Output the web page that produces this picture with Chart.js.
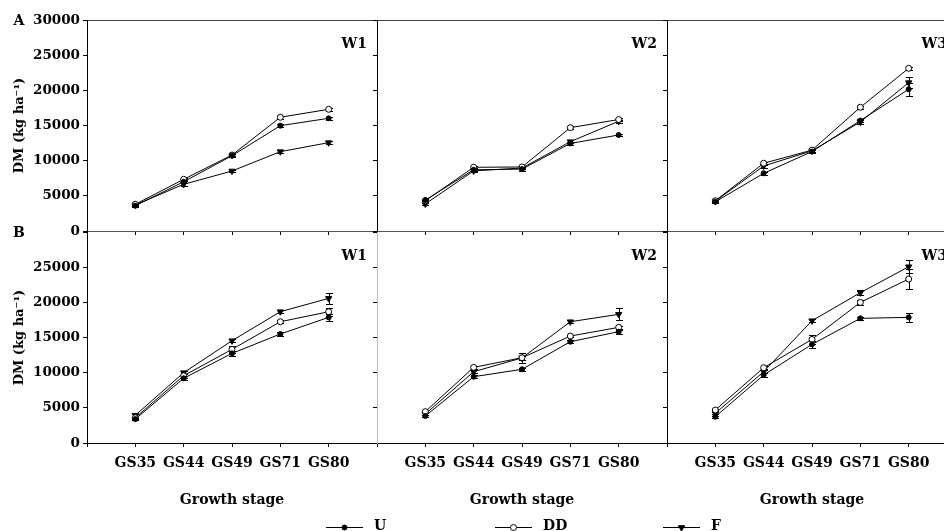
<!DOCTYPE html>
<html>
<head>
<meta charset="utf-8">
<script src="https://cdn.jsdelivr.net/npm/chart.js@4.4.1/dist/chart.umd.min.js"></script>
<style>
html,body{margin:0;padding:0;background:#fff;overflow:hidden;width:944px;height:531px;}
#wrap{position:relative;width:944px;height:531px;overflow:hidden;background:#fff;}
#wrap canvas{position:absolute;}
</style>
</head>
<body>
<div id="wrap"></div>
<script>
// ---------- data ----------
const stages = ['GS35', 'GS44', 'GS49', 'GS71', 'GS80'];
const seriesNames = ['U', 'DD', 'F'];
const panelNames = ['W1', 'W2', 'W3'];
const rowLetters = ['A', 'B'];
const yTickStep = 5000;
const yMax = 30000;

// Row A
const A_W1_U  = [3600, 7000, 10700, 14980, 16020];
const A_W1_DD = [3800, 7350, 10800, 16170, 17300];
const A_W1_F  = [3700, 6640, 8530, 11280, 12560];
const A_W2_U  = [4400, 8700, 8800, 12450, 13650];
const A_W2_DD = [4300, 9060, 9100, 14690, 15850];
const A_W2_F  = [3850, 8550, 8950, 12700, 15600];
const A_W3_U  = [4150, 8200, 11300, 15700, 20150];
const A_W3_DD = [4300, 9630, 11500, 17590, 23130];
const A_W3_F  = [4250, 9240, 11400, 15500, 21090];

// Row B
const B_W1_U  = [3400, 9200, 12750, 15500, 17870];
const B_W1_DD = [3600, 9570, 13320, 17250, 18670];
const B_W1_F  = [3950, 10000, 14550, 18680, 20570];
const B_W2_U  = [3840, 9430, 10480, 14410, 15830];
const B_W2_DD = [4460, 10760, 12130, 15210, 16450];
const B_W2_F  = [4120, 10140, 12100, 17250, 18300];
const B_W3_U  = [3740, 9670, 14030, 17730, 17870];
const B_W3_DD = [4690, 10710, 14740, 20000, 23320];
const B_W3_F  = [4220, 10140, 17390, 21380, 25070];

// Standard errors (error bars)
const A_W1_U_se  = [150, 200, 200, 250, 250];
const A_W1_DD_se = [150, 200, 200, 200, 250];
const A_W1_F_se  = [150, 200, 200, 250, 250];
const A_W2_U_se  = [150, 200, 200, 200, 200];
const A_W2_DD_se = [150, 200, 200, 200, 250];
const A_W2_F_se  = [150, 200, 200, 250, 250];
const A_W3_U_se  = [200, 200, 250, 250, 950];
const A_W3_DD_se = [200, 200, 200, 200, 250];
const A_W3_F_se  = [200, 250, 250, 250, 750];
const B_W1_U_se  = [150, 300, 400, 300, 500];
const B_W1_DD_se = [200, 300, 450, 200, 600];
const B_W1_F_se  = [150, 250, 200, 200, 750];
const B_W2_U_se  = [150, 200, 250, 200, 300];
const B_W2_DD_se = [150, 200, 300, 200, 250];
const B_W2_F_se  = [150, 200, 700, 200, 850];
const B_W3_U_se  = [150, 250, 550, 200, 600];
const B_W3_DD_se = [150, 200, 600, 300, 1450];
const B_W3_F_se  = [150, 200, 200, 350, 950];

const panelData = [
  {row: 0, col: 0, U: A_W1_U, DD: A_W1_DD, F: A_W1_F, se: {U: A_W1_U_se, DD: A_W1_DD_se, F: A_W1_F_se}},
  {row: 0, col: 1, U: A_W2_U, DD: A_W2_DD, F: A_W2_F, se: {U: A_W2_U_se, DD: A_W2_DD_se, F: A_W2_F_se}},
  {row: 0, col: 2, U: A_W3_U, DD: A_W3_DD, F: A_W3_F, se: {U: A_W3_U_se, DD: A_W3_DD_se, F: A_W3_F_se}},
  {row: 1, col: 0, U: B_W1_U, DD: B_W1_DD, F: B_W1_F, se: {U: B_W1_U_se, DD: B_W1_DD_se, F: B_W1_F_se}},
  {row: 1, col: 1, U: B_W2_U, DD: B_W2_DD, F: B_W2_F, se: {U: B_W2_U_se, DD: B_W2_DD_se, F: B_W2_F_se}},
  {row: 1, col: 2, U: B_W3_U, DD: B_W3_DD, F: B_W3_F, se: {U: B_W3_U_se, DD: B_W3_DD_se, F: B_W3_F_se}}
];

// ---------- styles / layout ----------
const FONT = 'DejaVu Serif';
Chart.defaults.font.family = FONT;
Chart.defaults.font.weight = 'bold';
Chart.defaults.color = '#000';

const pointStyles = {
  U:  {pointStyle: 'circle', pointRadius: 2.5, pointRotation: 0, pointBackgroundColor: '#000', pointBorderColor: '#000', pointBorderWidth: 1},
  DD: {pointStyle: 'circle', pointRadius: 3, pointRotation: 0, pointBackgroundColor: '#fff', pointBorderColor: '#000', pointBorderWidth: 1},
  F:  {pointStyle: 'triangle', pointRadius: 3.6, pointRotation: 180, pointBackgroundColor: '#000', pointBorderColor: '#000', pointBorderWidth: 1}
};

// canvas boxes [left, top, width, height] and layout paddings
const boxes = [
  {left: 0,   top: 0,   w: 387, h: 245, pad: {left: 0,  right: 10, top: 20, bottom: 4},  yW: 87},
  {left: 367, top: 0,   w: 310, h: 245, pad: {left: 0,  right: 10, top: 20, bottom: 4},  yW: 10},
  {left: 657, top: 0,   w: 310, h: 245, pad: {left: 0,  right: 10, top: 20, bottom: 4},  yW: 10},
  {left: 0,   top: 221, w: 387, h: 310, pad: {left: 0,  right: 10, top: 10, bottom: 22}, yW: 87},
  {left: 300, top: 221, w: 440, h: 310, pad: {left: 67, right: 73, top: 10, bottom: 22}, yW: 10},
  {left: 657, top: 221, w: 310, h: 310, pad: {left: 0,  right: 10, top: 10, bottom: 22}, yW: 10}
];

// ---------- plugins ----------
const errorBars = {
  id: 'errorBars',
  beforeDatasetsDraw(chart) {
    const {ctx, scales: {x, y}} = chart;
    ctx.save();
    ctx.strokeStyle = '#000';
    ctx.lineWidth = 1;
    chart.data.datasets.forEach(ds => {
      (ds.errors || []).forEach((e, i) => {
        const pt = ds.data[i];
        if (!pt || !e) return;
        const px = Math.round(x.getPixelForValue(pt.x)) + 0.5;
        const t = Math.round(y.getPixelForValue(pt.y + e)) + 0.5;
        const b = Math.round(y.getPixelForValue(pt.y - e)) + 0.5;
        ctx.beginPath();
        ctx.moveTo(px, t); ctx.lineTo(px, b);
        ctx.moveTo(px - 3.5, t); ctx.lineTo(px + 3.5, t);
        ctx.moveTo(px - 3.5, b); ctx.lineTo(px + 3.5, b);
        ctx.stroke();
      });
    });
    ctx.restore();
  }
};

const panelText = {
  id: 'panelText',
  afterDraw(chart, args, opts) {
    const {ctx, chartArea: ca} = chart;
    ctx.save();
    ctx.fillStyle = '#000';
    ctx.font = 'bold 14px "' + FONT + '"';
    if (opts.name) {
      ctx.textAlign = 'right';
      ctx.textBaseline = 'alphabetic';
      ctx.fillText(opts.name, ca.right - 10, ca.top + 28);
    }
    if (opts.letter) {
      ctx.textAlign = 'center';
      ctx.textBaseline = 'middle';
      ctx.fillText(opts.letter, 19, ca.top + 1);
    }
    ctx.restore();
  }
};

const lineLegend = {
  id: 'lineLegend',
  afterDraw(chart, args, opts) {
    if (!opts.show) return;
    const {ctx} = chart;
    const ox = opts.originX, oy = opts.originY;
    const starts = opts.starts; // absolute x of each sample line start
    const yLine = opts.y - oy + 0.5;
    ctx.save();
    chart.data.datasets.forEach((ds, i) => {
      const x0 = starts[i] - ox;
      ctx.strokeStyle = ds.borderColor;
      ctx.lineWidth = ds.borderWidth;
      ctx.beginPath();
      ctx.moveTo(x0, yLine);
      ctx.lineTo(x0 + opts.len, yLine);
      ctx.stroke();
      ctx.fillStyle = ds.pointBackgroundColor;
      ctx.strokeStyle = ds.pointBorderColor;
      ctx.lineWidth = ds.pointBorderWidth;
      Chart.helpers.drawPoint(ctx, {
        pointStyle: ds.pointStyle, radius: ds.pointRadius,
        rotation: ds.pointRotation, borderWidth: ds.pointBorderWidth
      }, x0 + opts.len / 2, yLine);
      ctx.fillStyle = '#000';
      ctx.font = 'bold 14px "' + FONT + '"';
      ctx.textAlign = 'left';
      ctx.textBaseline = 'middle';
      ctx.fillText(ds.label, x0 + opts.len + 11, yLine - 1.5);
    });
    ctx.restore();
  }
};

// ---------- build charts ----------
const wrap = document.getElementById('wrap');

panelData.forEach((p, idx) => {
  const bx = boxes[idx];
  const cv = document.createElement('canvas');
  cv.width = bx.w; cv.height = bx.h;
  cv.style.left = bx.left + 'px';
  cv.style.top = bx.top + 'px';
  cv.style.width = bx.w + 'px';
  cv.style.height = bx.h + 'px';
  wrap.appendChild(cv);

  const rowA = p.row === 0;
  const first = p.col === 0;

  const datasets = seriesNames.map(s => Object.assign({
    label: s,
    data: p[s].map((v, i) => ({x: i + 1, y: v})),
    errors: p.se[s],
    borderColor: '#000',
    borderWidth: 1,
    tension: 0,
    fill: false,
    clip: false
  }, pointStyles[s]));

  new Chart(cv, {
    type: 'line',
    data: {datasets},
    options: {
      responsive: false,
      animation: false,
      devicePixelRatio: 1,
      layout: {padding: bx.pad},
      plugins: {
        legend: {display: false},
        tooltip: {enabled: false},
        panelText: {name: panelNames[p.col], letter: first ? rowLetters[p.row] : ''},
        lineLegend: {show: !rowA && p.col === 1, originX: bx.left, originY: bx.top,
                     starts: [326, 495, 663], len: 37, y: 527}
      },
      scales: {
        x: {
          type: 'linear', min: 0, max: stages.length + 1,
          afterFit: s => { s.height = rowA ? 10 : 66; },
          ticks: {
            stepSize: 1, autoSkip: false, maxRotation: 0, padding: 8,
            font: {size: 14, weight: 'bold'}, color: '#000',
            callback: v => rowA ? '' : (stages[v - 1] || '')
          },
          grid: {drawOnChartArea: false, drawTicks: true, tickLength: 4, tickColor: '#000'},
          border: {display: true, color: rowA ? '#555' : '#000', width: 1},
          title: {display: !rowA, text: 'Growth stage', color: '#000',
                  font: {size: 14, weight: 'bold'}, padding: {top: 0, bottom: 0}}
        },
        y: {
          type: 'linear', min: 0, max: yMax,
          afterFit: s => { s.width = bx.yW; },
          ticks: {
            stepSize: yTickStep, padding: 3, font: {size: 13.5, weight: 'bold'}, color: '#000',
            callback: v => (!first || (!rowA && v === yMax)) ? '' : String(v)
          },
          grid: {
            drawOnChartArea: true, drawTicks: true, tickLength: 4, tickColor: '#000',
            color: c => (rowA && c.tick && c.tick.value === yMax) ? '#444' : 'rgba(0,0,0,0)'
          },
          border: {display: true, color: (!rowA && p.col === 1) ? '#bbb' : '#000', width: 1},
          title: {display: first, text: 'DM (kg ha⁻¹)', color: '#000',
                  font: {size: 13, weight: 'bold'}, padding: {top: 12, bottom: 0}}
        }
      }
    },
    plugins: [errorBars, panelText, lineLegend]
  });
});
</script>
</body>
</html>
